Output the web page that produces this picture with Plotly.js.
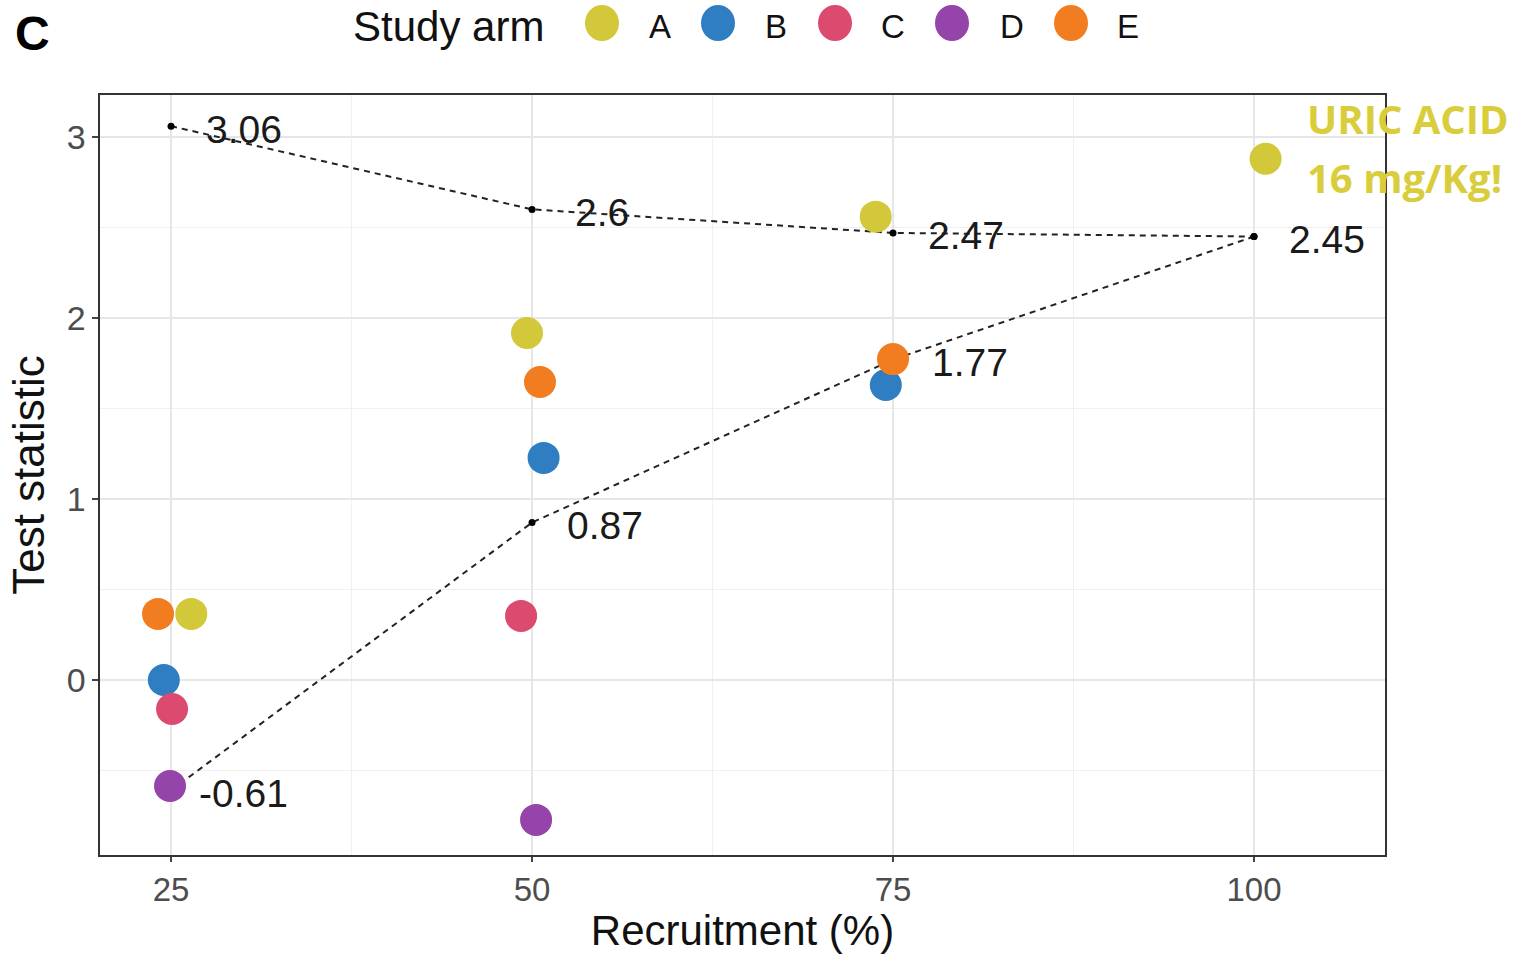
<!DOCTYPE html>
<html>
<head>
<meta charset="utf-8">
<script src="https://cdn.plot.ly/plotly-3.0.1.min.js"></script>
<style>html,body{margin:0;padding:0;background:#fff;}#chart{width:1524px;height:954px;}</style>
</head>
<body>
<div id="chart"></div>
<script>
// ---- data ----
const armNames = ['A', 'B', 'C', 'D', 'E'];
const armA_x = [26.4, 49.65, 73.8, 100.8];
const armA_y = [0.365, 1.917, 2.56, 2.88];
const armB_x = [24.5, 50.8, 74.5];
const armB_y = [0.0, 1.227, 1.63];
const armC_x = [25.07, 49.24];
const armC_y = [-0.16, 0.354];
const armD_x = [24.93, 50.28];
const armD_y = [-0.586, -0.773];
const armE_x = [24.1, 50.55, 75.0];
const armE_y = [0.365, 1.646, 1.773];

const recruit = [25, 50, 75, 100];
const upperStat = [3.06, 2.6, 2.47, 2.45];
const lowerStat = [-0.61, 0.87, 1.77, 2.45];

const xTickVals = [25, 50, 75, 100];
const yTickVals = [0, 1, 2, 3];

// ---- styles ----
const colors = {A: '#d3c73a', B: '#2f7ec2', C: '#dc4a6f', D: '#9544a9', E: '#f27d20'};
const armData = {A: [armA_x, armA_y], B: [armB_x, armB_y], C: [armC_x, armC_y], D: [armD_x, armD_y], E: [armE_x, armE_y]};
const drawOrder = ['B', 'C', 'D', 'E', 'A'];

const traces = [];
[upperStat, lowerStat].forEach(function (ys) {
  traces.push({
    x: recruit, y: ys, type: 'scatter', mode: 'lines+markers',
    line: {color: '#222', width: 2, dash: '6px,5px'},
    marker: {color: '#000', size: 7},
    showlegend: false, hoverinfo: 'skip'
  });
});
drawOrder.forEach(function (k) {
  traces.push({
    x: armData[k][0], y: armData[k][1], type: 'scatter', mode: 'markers', name: k,
    marker: {color: colors[k], size: 32, line: {width: 0}},
    showlegend: false
  });
});

const L = 100, R = 139, T = 95, B = 99, W = 1524, H = 954;
const pw = W - L - R, ph = H - T - B;
function px(xp) { return (xp - L) / pw; }
function py(yp) { return (H - B - yp) / ph; }

const labelFont = {family: 'Liberation Sans, Arial', size: 39, color: '#1a1a1a'};
const annotations = [];
// value labels
upperStat.forEach(function (v, i) {
  annotations.push({x: recruit[i], y: v, text: String(v), showarrow: false, xanchor: 'left', yanchor: 'middle',
    xshift: i === 1 ? 41 : 33, yshift: -3, font: labelFont});
});
lowerStat.slice(0, 3).forEach(function (v, i) {
  annotations.push({x: recruit[i], y: v, text: String(v), showarrow: false, xanchor: 'left', yanchor: 'middle',
    xshift: i === 0 ? 26 : (i === 2 ? 37 : 33), yshift: -3, font: labelFont});
});
// panel letter
annotations.push({xref: 'paper', yref: 'paper', x: px(13), y: py(33), xanchor: 'left', yanchor: 'middle',
  text: '<b>C</b>', showarrow: false, font: {family: 'Liberation Sans, Arial', size: 48, color: '#000'}});
// legend title
annotations.push({xref: 'paper', yref: 'paper', x: px(351), y: py(27), xanchor: 'left', yanchor: 'middle',
  text: 'Study arm', showarrow: false, font: {family: 'Liberation Sans, Arial', size: 42, color: '#111'}});
// uric acid note
annotations.push({xref: 'paper', yref: 'paper', x: px(1305), y: py(119), xanchor: 'left', yanchor: 'middle',
  text: '<b>URIC ACID</b>', showarrow: false, font: {family: 'Open Sans, Lato, sans-serif', size: 40, color: '#d9cd3c'}});
annotations.push({xref: 'paper', yref: 'paper', x: px(1305), y: py(177), xanchor: 'left', yanchor: 'middle',
  text: '<b>16 mg/Kg!</b>', showarrow: false, font: {family: 'Open Sans, Lato, sans-serif', size: 40, color: '#d9cd3c'}});

// custom legend
const legSymX = [602, 718, 835, 952, 1071];
const legTxtX = [660, 776, 893, 1012, 1128];
const shapes = [];
armNames.forEach(function (k, i) {
  shapes.push({type: 'circle', xref: 'paper', yref: 'paper', xsizemode: 'pixel', ysizemode: 'pixel',
    xanchor: px(legSymX[i]), yanchor: py(23), x0: -17, x1: 17, y0: -18, y1: 18,
    fillcolor: colors[k], line: {width: 0}});
  annotations.push({xref: 'paper', yref: 'paper', x: px(legTxtX[i]), y: py(26), xanchor: 'center', yanchor: 'middle',
    text: k, showarrow: false, font: {family: 'Liberation Sans, Arial', size: 33, color: '#111'}});
});

const layout = {
  width: W, height: H,
  margin: {l: L, r: R, t: T, b: B},
  paper_bgcolor: '#fff', plot_bgcolor: '#fff',
  font: {family: 'Liberation Sans, Arial', color: '#4d4d4d'},
  showlegend: false,
  xaxis: {
    range: [20.08, 109.07], tickvals: xTickVals, ticktext: xTickVals.map(String),
    showgrid: true, gridcolor: '#e6e6e6', gridwidth: 1.2,
    minor: {tickvals: [37.5, 62.5, 87.5], showgrid: true, gridcolor: '#f0f0f0', gridwidth: 1},
    ticks: 'outside', ticklen: 5, tickcolor: '#444', tickwidth: 1.3,
    tickfont: {size: 33, color: '#4d4d4d'},
    showline: true, mirror: true, linecolor: '#333', linewidth: 1.6,
    zeroline: false,
    title: {text: 'Recruitment (%)', font: {size: 42, color: '#111'}, standoff: 8}
  },
  yaxis: {
    range: [-0.967, 3.232], tickvals: yTickVals, ticktext: yTickVals.map(String),
    showgrid: true, gridcolor: '#e6e6e6', gridwidth: 1.2,
    minor: {tickvals: [-0.5, 0.5, 1.5, 2.5], showgrid: true, gridcolor: '#f0f0f0', gridwidth: 1},
    ticks: 'outside', ticklen: 6, tickcolor: '#444', tickwidth: 1.3,
    tickfont: {size: 34, color: '#4d4d4d'},
    showline: true, mirror: true, linecolor: '#333', linewidth: 1.6,
    zeroline: false,
    title: {text: 'Test statistic', font: {size: 44, color: '#111'}, standoff: 8}
  },
  annotations: annotations,
  shapes: shapes
};

Plotly.newPlot('chart', traces, layout, {displayModeBar: false, staticPlot: true});
</script>
</body>
</html>
